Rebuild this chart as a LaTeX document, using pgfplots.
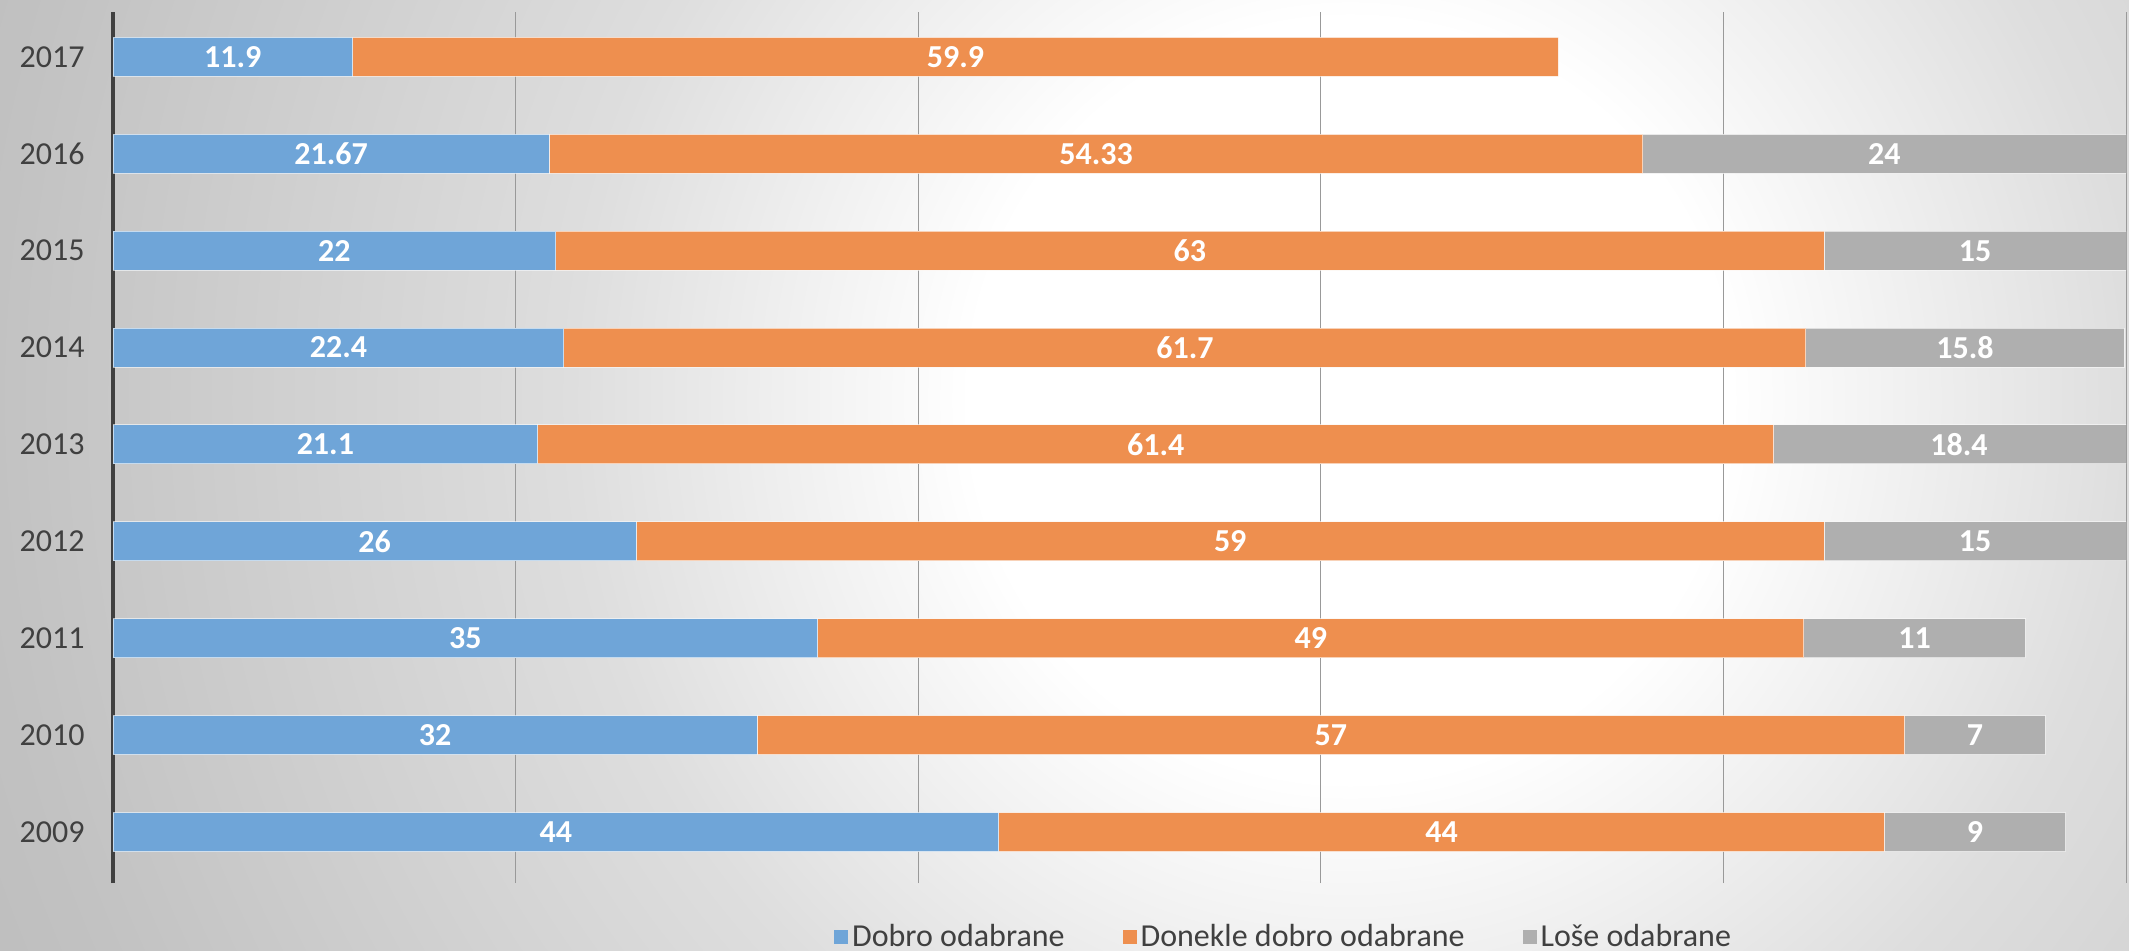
\documentclass[border=0pt]{standalone}
\usepackage{fontspec}
\setmainfont{Carlito}
\usepackage{pgfplots}
\usepackage{pgfplotstable}
\pgfplotsset{compat=1.18}

\definecolor{cblue}{RGB}{111,165,216}
\definecolor{corange}{RGB}{238,143,79}
\definecolor{cgray}{RGB}{175,175,175}
\definecolor{ctext}{RGB}{64,64,64}

% soft grey background, white spot right of centre
\pgfdeclareradialshading{bgshade}{\pgfpoint{0bp}{0bp}}{color(0bp)=(white); color(190bp)=(white); color(390bp)=(white!87!black); color(680bp)=(white!76!black); color(760bp)=(white!74!black)}

\pgfplotstableread{
year a b c
2009 44 44 9
2010 32 57 7
2011 35 49 11
2012 26 59 15
2013 21.1 61.4 18.4
2014 22.4 61.7 15.8
2015 22 63 15
2016 21.67 54.33 24
2017 11.9 59.9 nan
}\votes

\newcommand{\chartfont}{\fontsize{16bp}{19bp}\selectfont}

\pgfplotsset{
  base/.style={
    scale only axis, width=1006.5bp, height=435.5bp,
    at={(56.5bp,34bp)}, anchor=south west,
    xmin=0, xmax=100, ymin=2008.474, ymax=2017.464,
  },
  seg/.style={fill=#1, draw=white, draw opacity=0.6, line width=0.5bp},
  lbl/.style={draw=none, mark=none, nodes near coords, point meta=explicit symbolic,
    nodes near coords style={anchor=center, inner sep=0pt, text=white, font=\bfseries\chartfont}},
}

\begin{document}
\begin{tikzpicture}
\useasboundingbox (0,0) rectangle (1064.5bp,475.5bp);
\begin{scope}
\clip (0,0) rectangle (1064.5bp,475.5bp);
\node[inner sep=0pt] at (675bp,275.5bp) {\pgfuseshading{bgshade}};
\end{scope}

\begin{axis}[base,
  xbar stacked, bar width=19.5bp,
  axis x line*=bottom, axis y line*=left,
  x axis line style={draw=none},
  y axis line style={draw=ctext, line width=1.6bp},
  major tick length=0pt,
  xtick={20,40,60,80,100}, xticklabels={},
  xmajorgrids, grid style={line width=0.5bp, draw=black!40},
  ytick={2009,2010,2011,2012,2013,2014,2015,2016,2017},
  yticklabels={2009,2010,2011,2012,2013,2014,2015,2016,2017},
  yticklabel style={inner sep=0pt, xshift=-14bp, text=ctext, font=\chartfont},
  legend style={at={(0.582,-0.062)}, anchor=center, draw=none, fill=none,
    legend columns=3, font=\chartfont, text=ctext,
    /tikz/every even column/.append style={column sep=27bp}},
  legend image code/.code={\fill[#1, draw=none] (0bp,-3.5bp) rectangle (7bp,3.5bp);},
]
\addplot[seg=cblue] table[x=a, y=year] {\votes};
\addplot[seg=corange] table[x=b, y=year] {\votes};
\addplot[seg=cgray] table[x=c, y=year] {\votes};
\legend{Dobro odabrane, Donekle dobro odabrane, Loše odabrane}
\end{axis}

% segment values, centred in each segment
\begin{axis}[base, hide axis, clip=false]
\addplot[lbl] table[x expr=\thisrow{a}/2, y=year, meta=a] {\votes};
\addplot[lbl] table[x expr=\thisrow{a}+\thisrow{b}/2, y=year, meta=b] {\votes};
\addplot[lbl] table[x expr=\thisrow{a}+\thisrow{b}+\thisrow{c}/2, y=year, meta=c] {\votes};
\end{axis}
\end{tikzpicture}
\end{document}
